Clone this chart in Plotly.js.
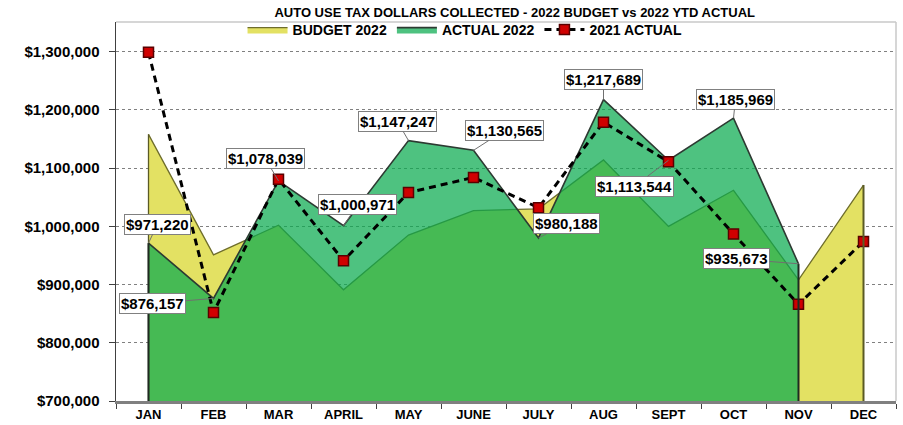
<!DOCTYPE html>
<html>
<head>
<meta charset="utf-8">
<script src="https://cdn.plot.ly/plotly-3.0.1.min.js"></script>
<style>html,body{margin:0;padding:0;background:#fff;}#chart{width:903px;height:425px;}</style>
</head>
<body>
<div id="chart"></div>
<script>
var months = ['JAN','FEB','MAR','APRIL','MAY','JUNE','JULY','AUG','SEPT','OCT','NOV','DEC'];
var budget2022 = [1158000, 951000, 1002000, 891000, 985000, 1027000, 1030000, 1114000, 1000000, 1062000, 908000, 1071000];
var actual2022 = [971220, 876157, 1078039, 1000971, 1147247, 1130565, 980188, 1217689, 1113544, 1185969, 935673];
var actual2021 = [1299000, 852000, 1081000, 941000, 1058000, 1084000, 1032000, 1179000, 1111000, 987000, 866000, 974000];
// label box offsets (px) relative to each ACTUAL 2022 point
var labelOffsets = [[9,-19],[-61,5],[-13,-22],[14,-21],[-11,-19],[31,-20],[28,-14],[0,-20],[-34,26],[2,-19],[-62,-5]];

var F = 'Liberation Sans, Arial, sans-serif';
var actualMonths = months.slice(0, actual2022.length);

var traces = [
  {
    x: months, y: budget2022, name: 'BUDGET 2022', type: 'scatter', mode: 'lines',
    fill: 'tozeroy', fillcolor: '#e3e163',
    line: {color: '#6e6d2c', width: 1.3}, hoverinfo: 'skip'
  },
  {
    x: actualMonths, y: actual2022, name: 'ACTUAL 2022', type: 'scatter', mode: 'lines',
    fill: 'tozeroy', fillcolor: 'rgba(10,170,79,0.72)',
    line: {color: '#2d3a32', width: 1.6}, hoverinfo: 'skip'
  },
  {
    x: months, y: actual2021, name: '2021 ACTUAL', type: 'scatter', mode: 'lines+markers',
    line: {color: '#000000', width: 3, dash: '7px,5px'},
    marker: {symbol: 'square', size: 10, color: '#d00000', line: {color: '#5a0000', width: 1.5}},
    hoverinfo: 'skip'
  }
];

var annotations = actual2022.map(function(v, i) {
  return {
    x: months[i], y: v, xref: 'x', yref: 'y',
    text: '$' + v.toLocaleString('en-US'),
    showarrow: true, arrowhead: 0, arrowwidth: 1, arrowcolor: '#707070', standoff: 0,
    ax: labelOffsets[i][0], ay: labelOffsets[i][1],
    bgcolor: '#ffffff', bordercolor: '#808080', borderwidth: 1, borderpad: 1,
    font: {family: F, size: 15, color: '#000000', weight: 'bold'}
  };
});

var shapes = [
  {type: 'line', xref: 'paper', yref: 'paper', x0: 0, x1: 1, y0: 1, y1: 1, line: {color: '#c8c8c8', width: 1.5}},
  {type: 'line', xref: 'paper', yref: 'paper', x0: 1, x1: 1, y0: 0, y1: 1, line: {color: '#c8c8c8', width: 1.5}},
  {type: 'line', xref: 'x', yref: 'y', x0: months[0], x1: months[0], y0: 700000, y1: budget2022[0], line: {color: '#5a5a25', width: 1.3}},
  {type: 'line', xref: 'x', yref: 'y', x0: months[11], x1: months[11], y0: 700000, y1: budget2022[11], line: {color: '#5a5a25', width: 2}},
  {type: 'line', xref: 'x', yref: 'y', x0: months[10], x1: months[10], y0: 700000, y1: actual2022[10], line: {color: '#1f2a22', width: 2}},
  {type: 'line', xref: 'x', yref: 'y', x0: months[0], x1: months[0], y0: 700000, y1: actual2022[0], line: {color: '#1f2a22', width: 2}}
];

var layout = {
  width: 903, height: 425,
  margin: {l: 116, r: 7, t: 22, b: 24, pad: 0, autoexpand: false},
  paper_bgcolor: '#ffffff', plot_bgcolor: '#ffffff',
  showlegend: true,
  title: {
    text: 'AUTO USE TAX DOLLARS COLLECTED - 2022 BUDGET vs 2022 YTD ACTUAL',
    x: 0.570, xanchor: 'center', xref: 'container',
    y: 1 - 12/425, yanchor: 'middle', yref: 'container',
    font: {family: F, size: 13, color: '#000000', weight: 'bold'}
  },
  legend: {
    orientation: 'h', x: 0.515, xanchor: 'center', xref: 'container',
    y: 1 - 30/425, yanchor: 'middle', yref: 'container',
    bgcolor: 'rgba(255,255,255,0)', font: {family: F, size: 14, color: '#000000', weight: 'bold'},
    traceorder: 'normal', itemwidth: 40, tracegroupgap: 0
  },
  xaxis: {
    type: 'category', range: [-0.5, 11.5], fixedrange: true, automargin: false,
    showline: true, linecolor: '#808080', linewidth: 2.5,
    ticks: 'outside', tickson: 'boundaries', ticklen: 5, tickcolor: '#404040', tickwidth: 1,
    showgrid: false, zeroline: false,
    tickfont: {family: F, size: 13, color: '#000000', weight: 'bold'}
  },
  yaxis: {
    range: [700000, 1351000], dtick: 100000, tick0: 700000, fixedrange: true, automargin: false,
    tickprefix: '$', tickformat: ',d',
    showline: true, linecolor: '#404040', linewidth: 1.5,
    ticks: 'outside', ticklen: 6, tickcolor: '#404040', tickwidth: 1,
    showgrid: true, gridcolor: '#808080', griddash: 'dot', gridwidth: 1,
    zeroline: false, ticklabelstandoff: 6,
    tickfont: {family: F, size: 15, color: '#000000', weight: 'bold'}
  },
  annotations: annotations,
  shapes: shapes
};

Plotly.newPlot('chart', traces, layout, {displayModeBar: false, staticPlot: true});
</script>
</body>
</html>
